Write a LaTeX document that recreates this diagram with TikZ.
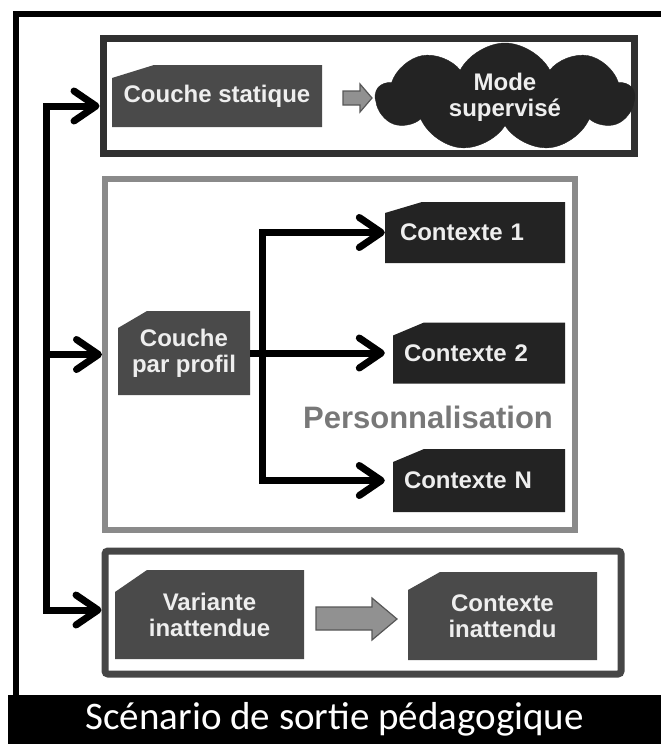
\documentclass[tikz,border=0pt]{standalone}
\usepackage{fontspec}
\setmainfont{Liberation Sans}
\newfontfamily\calibri{Carlito}
\usetikzlibrary{arrows.meta,shapes.symbols}

\definecolor{cardgrey}{RGB}{74,74,74}
\definecolor{carddark}{RGB}{35,35,35}
\definecolor{framedark}{RGB}{48,48,48}
\definecolor{framegrey}{RGB}{138,138,138}
\definecolor{framebot}{RGB}{70,70,70}
\definecolor{arrowgrey}{RGB}{145,145,145}
\definecolor{labelgrey}{RGB}{120,120,120}
\definecolor{cardtext}{RGB}{238,238,238}

\tikzset{
  card/.style n args={3}{inner sep=0pt, text=cardtext, align=center,
    font=\bfseries\fontsize{24}{26}\selectfont,
    path picture={\fill[#1] ([yshift=-#3pt]path picture bounding box.north west)
      -- ([xshift=#2pt]path picture bounding box.north west)
      -- (path picture bounding box.north east)
      -- (path picture bounding box.south east)
      -- (path picture bounding box.south west) -- cycle;}},
  blockarrow/.style={draw=arrowgrey!60!black, fill=arrowgrey, line width=1.2pt,
    line join=miter},
  barb/.tip={Straight Barb[length=22pt,width=30pt,round]},
  conn/.style={line width=7pt, line join=miter, -barb},
}

\begin{document}
\begin{tikzpicture}[x=1pt,y=-1pt]
  \useasboundingbox (0,0) rectangle (661,744);
  % outer frame and title band
  \draw[line width=6pt] (15.5,695) -- (15.5,13.5) -- (661,13.5);
  \node[fill=black, inner sep=0pt, anchor=north west, minimum width=653pt,
    minimum height=49pt, text=white, font=\calibri\fontsize{39}{42}\selectfont]
    (titre) at (8,695) {Scénario de sortie pédagogique};

  % the three frames
  \node[draw=framedark, line width=7pt, minimum width=531pt, minimum height=115pt]
    (topbox) at (368.5,95.5) {};
  \node[draw=framegrey, line width=6pt, minimum width=470pt, minimum height=351pt]
    (midbox) at (340,354.5) {};
  \node[draw=framebot, line width=7pt, rounded corners=3pt, minimum width=516pt,
    minimum height=123pt] (botbox) at (363,612.5) {};

  % static layer
  \node[card={cardgrey}{42}{13}, minimum width=210pt, minimum height=62pt]
    (statique) at (217,96) {Couche statique};
  \filldraw[blockarrow] (343,91) -- (360,91) -- (360,84) -- (372,98)
    -- (360,112) -- (360,105) -- (343,105) -- cycle;
  \node[cloud, cloud puffs=9, cloud puff arc=125, cloud ignores aspect,
    fill=carddark, draw=carddark, minimum width=258pt, minimum height=96pt,
    text=cardtext, align=center, font=\bfseries\fontsize{24}{26}\selectfont]
    (nuage) at (505,97) {Mode\\supervisé};

  % profile layer
  \node[card={cardgrey}{29}{17}, minimum width=132pt, minimum height=84pt]
    (profil) at (184,353) {Couche\\par profil};
  \node[card={carddark}{37}{11}, minimum width=180pt, minimum height=61pt,
    text width=150pt, align=left] (ctx1) at (475,232.5) {Contexte 1};
  \node[card={carddark}{31}{13}, minimum width=172pt, minimum height=61pt,
    text width=150pt, align=left] (ctx2) at (479,353) {Contexte 2};
  \node[card={carddark}{31}{13}, minimum width=172pt, minimum height=63pt,
    text width=150pt, align=left] (ctxN) at (479,480.5) {Contexte N};
  \node[text=labelgrey, font=\bfseries\fontsize{31}{33}\selectfont]
    (perso) at (428,417) {Personnalisation};

  % unexpected layer
  \node[card={cardgrey}{32}{22}, minimum width=189pt, minimum height=89pt]
    (variante) at (209.5,614.5) {Variante\\inattendue};
  \filldraw[blockarrow] (316,607) -- (372,607) -- (372,598) -- (397,619)
    -- (372,640) -- (372,630) -- (316,630) -- cycle;
  \node[card={cardgrey}{32}{18}, minimum width=189pt, minimum height=88pt]
    (inattendu) at (502.5,616) {Contexte\\inattendu};

  % left trunk
  \coordinate (jtop) at (46,106);
  \coordinate (jbot) at (46,610);
  \draw[conn, barb-barb]
    (jtop -| topbox.west) -- (jtop) -- (jbot) -- (jbot -| botbox.west);
  \draw[conn] (jtop |- midbox.west) -- (midbox.west);

  % fork towards the contexts
  \coordinate (fork) at (262,353);
  \draw[line width=7pt, line cap=rect] (fork |- ctx1.west) -- (fork |- ctxN.west);
  \draw[line width=7pt] (profil.east) -- (fork);
  \foreach \c in {ctx1,ctx2,ctxN}{%
    \draw[conn] (fork |- \c.west) -- (\c.west -| ctx1.west);
  }
\end{tikzpicture}
\end{document}
